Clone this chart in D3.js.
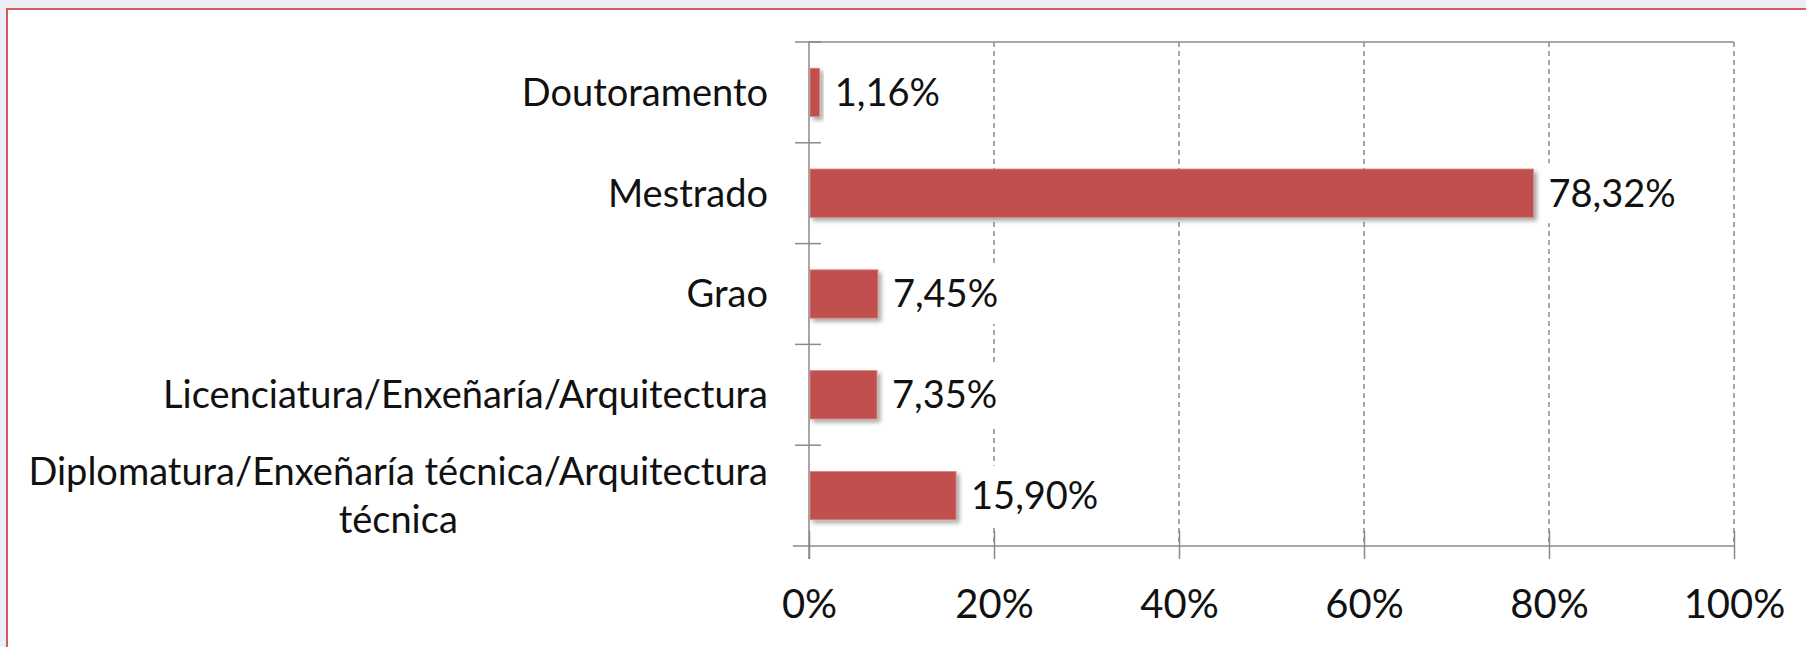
<!DOCTYPE html>
<html>
<head>
<meta charset="utf-8">
<script src="https://cdn.jsdelivr.net/npm/d3@7"></script>
<style>
  html, body { margin: 0; padding: 0; background: #eceef7; }
  svg { display: block; }
  text { font-family: Lato, 'Open Sans', sans-serif; fill: #111111; }
</style>
</head>
<body>
<div id="chart"></div>
<script>
const svgWidth = 1806, svgHeight = 647;
const plot = { left: 809, right: 1734, top: 42, bottom: 546 };
const fontSize = 38;
const tickFontSize = 40;

// data
const categories = [
  'Doutoramento',
  'Mestrado',
  'Grao',
  'Licenciatura/Enxeñaría/Arquitectura',
  'Diplomatura/Enxeñaría técnica/Arquitectura técnica'
];
const categoryLines = [
  ['Doutoramento'],
  ['Mestrado'],
  ['Grao'],
  ['Licenciatura/Enxeñaría/Arquitectura'],
  ['Diplomatura/Enxeñaría técnica/Arquitectura', 'técnica']
];
const values = [1.16, 78.32, 7.45, 7.35, 15.90];
const valueLabels = ['1,16%', '78,32%', '7,45%', '7,35%', '15,90%'];
const xTicks = [0, 20, 40, 60, 80, 100];
const xTickLabels = ['0%', '20%', '40%', '60%', '80%', '100%'];

const data = categories.map((c, i) => ({
  cat: c, lines: categoryLines[i], value: values[i], label: valueLabels[i]
}));

const svg = d3.select('#chart')
  .append('svg')
  .attr('width', svgWidth)
  .attr('height', svgHeight);

// shadow filter for bars
const defs = svg.append('defs');
const shadow = defs.append('filter')
  .attr('id', 'shadow')
  .attr('x', '-20%').attr('y', '-20%')
  .attr('width', '160%').attr('height', '160%');
shadow.append('feDropShadow')
  .attr('dx', 3).attr('dy', 3)
  .attr('stdDeviation', 2)
  .attr('flood-color', '#000')
  .attr('flood-opacity', 0.35);

// page background + white panel with red edge
svg.append('rect')
  .attr('width', svgWidth).attr('height', svgHeight)
  .attr('fill', '#eceef7');
svg.append('rect')
  .attr('x', 7).attr('y', 9)
  .attr('width', svgWidth + 20).attr('height', svgHeight + 20)
  .attr('fill', '#ffffff')
  .attr('stroke', '#d9585c')
  .attr('stroke-width', 2);

const x = d3.scaleLinear()
  .domain([0, 100])
  .range([plot.left, plot.right]);

const y = d3.scaleBand()
  .domain(categories)
  .range([plot.top, plot.bottom])
  .paddingInner(0.52)
  .paddingOuter(0.26);

const gap = (y.step() - y.bandwidth()) / 2;
const boundaries = categories.map(c => y(c) - gap).concat([plot.bottom]);

// gridlines (dashed)
svg.append('g')
  .selectAll('line')
  .data(xTicks.filter(d => d > 0))
  .join('line')
  .attr('x1', d => x(d)).attr('x2', d => x(d))
  .attr('y1', plot.top).attr('y2', plot.bottom)
  .attr('stroke', '#8a8a8a')
  .attr('stroke-width', 1.5)
  .attr('stroke-dasharray', '5,4');

// top border of plot area
svg.append('line')
  .attr('x1', plot.left).attr('x2', plot.right)
  .attr('y1', plot.top).attr('y2', plot.top)
  .attr('stroke', '#8a8a8a')
  .attr('stroke-width', 1.5);

// x axis
const xAxis = svg.append('g')
  .attr('transform', `translate(0,${plot.bottom})`)
  .call(d3.axisBottom(x)
    .tickValues(xTicks)
    .tickFormat((d, i) => xTickLabels[i])
    .tickSizeOuter(0));
xAxis.select('.domain')
  .attr('d', `M${plot.left - 16},0H${plot.right}`)
  .attr('stroke', '#8a8a8a')
  .attr('stroke-width', 1.5);
xAxis.selectAll('.tick line')
  .attr('y1', -15).attr('y2', 13)
  .attr('stroke', '#8a8a8a')
  .attr('stroke-width', 1.5);
xAxis.selectAll('.tick text')
  .attr('y', 72).attr('dy', null)
  .style('font-size', tickFontSize + 'px')
  .style('font-family', 'Lato, sans-serif')
  .attr('fill', '#111111');

// y axis line and boundary ticks
svg.append('line')
  .attr('x1', plot.left).attr('x2', plot.left)
  .attr('y1', plot.top).attr('y2', plot.bottom + 13)
  .attr('stroke', '#8a8a8a')
  .attr('stroke-width', 1.5);
svg.append('g')
  .selectAll('line')
  .data(boundaries.slice(0, -1))
  .join('line')
  .attr('x1', plot.left - 14).attr('x2', plot.left + 12)
  .attr('y1', d => d).attr('y2', d => d)
  .attr('stroke', '#8a8a8a')
  .attr('stroke-width', 1.5);

// category labels (multi-line centred block, right aligned)
const labelRight = 768;
const lineHeight = 48;
const catG = svg.append('g').style('font-size', fontSize + 'px');
data.forEach(d => {
  const cy = y(d.cat) + y.bandwidth() / 2;
  const n = d.lines.length;
  const t = catG.append('text')
    .attr('text-anchor', 'middle');
  d.lines.forEach((ln, i) => {
    t.append('tspan')
      .attr('y', cy + (i - (n - 1) / 2) * lineHeight)
      .attr('dy', '0.35em')
      .text(ln);
  });
  // width of widest line -> centre of block
  let w = 0;
  t.selectAll('tspan').each(function() { w = Math.max(w, this.getComputedTextLength()); });
  t.selectAll('tspan').attr('x', labelRight - w / 2);
});

// bars
svg.append('g')
  .selectAll('rect')
  .data(data)
  .join('rect')
  .attr('x', x(0) + 1)
  .attr('y', d => y(d.cat))
  .attr('width', d => x(d.value) - x(0) - 1)
  .attr('height', y.bandwidth())
  .attr('fill', '#c0504d')
  .attr('stroke', '#d98c8a')
  .attr('stroke-width', 0.8)
  .attr('filter', 'url(#shadow)');

// value labels with white box
const valG = svg.append('g').style('font-size', fontSize + 'px');
data.forEach(d => {
  const cy = y(d.cat) + y.bandwidth() / 2;
  const bg = valG.append('rect').attr('fill', '#ffffff');
  const t = valG.append('text')
    .attr('x', x(d.value) + 15)
    .attr('y', cy)
    .attr('dy', '0.35em')
    .text(d.label);
  const w = t.node().getComputedTextLength();
  bg.attr('x', x(d.value) + 11)
    .attr('y', cy - 30)
    .attr('width', w + 8)
    .attr('height', 60);
});
</script>
</body>
</html>
